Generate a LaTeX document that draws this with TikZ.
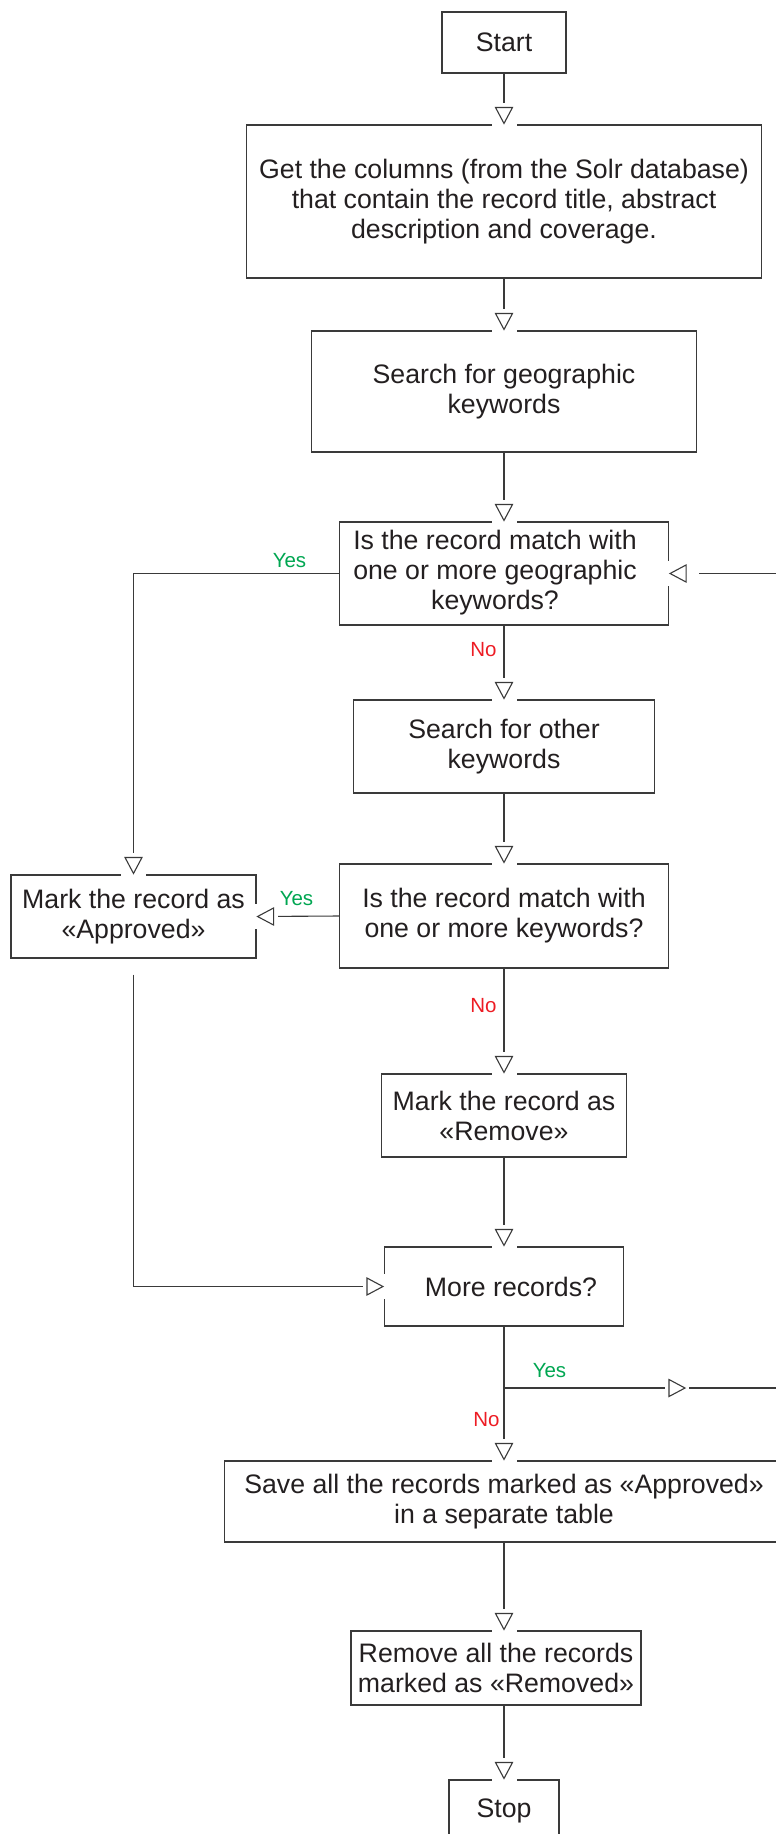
\documentclass[tikz,border=0pt]{standalone}
\usepackage{fontspec}
\setmainfont{Liberation Sans}
\usetikzlibrary{calc}

\definecolor{ink}{HTML}{231F20}
\definecolor{wire}{HTML}{3A3A3A}
\definecolor{yesgreen}{HTML}{00A651}
\definecolor{nored}{HTML}{ED1C24}

% open triangular arrow head with a white clearance around it;
% #2 = point of the tip, #3 = direction, #1 = free space behind the base
\newcommand\opentip[3][5]{%
  \begin{scope}[shift={(#2)}, rotate=#3]
    \fill[white] ({-16-#1},-12.5) rectangle (2.5,12.5);
    \draw[wire, line width=1.1pt, fill=white, line join=miter]
      (-1,0) -- (-17,8.5) -- (-17,-8.5) -- cycle;
  \end{scope}}

\tikzset{
  box/.style={draw=wire, line width=1.1pt, text=ink, inner sep=0pt,
    font=\fontsize{26.7}{30}\selectfont},
  boxc/.style={box, align=center},
  link/.style={draw=wire, line width=1.1pt},
  yeslab/.style={text=yesgreen, inner sep=0pt, font=\fontsize{20.5}{24}\selectfont},
  nolab/.style={text=nored, inner sep=0pt, font=\fontsize{20.5}{24}\selectfont},
}

\begin{document}
\begin{tikzpicture}[x=1pt, y=1pt]
\useasboundingbox (0,0) rectangle (776,-1834);

% process and decision boxes
\node[boxc, minimum width=124pt, minimum height=61pt] (start) at (504,-42.5) {Start};
\node[boxc, minimum width=515pt, minimum height=153pt] (cols) at (504,-201.5)
  {Get the columns (from the Solr database)\\ that contain the record title, abstract\\ description and coverage.};
\node[boxc, minimum width=385pt, minimum height=121pt] (geo) at (504,-391.5)
  {Search for geographic\\ keywords};
\node[box, minimum width=329pt, minimum height=103pt] (dec1) at (504,-573.5)
  {\kern-18pt\begin{tabular}{@{}c@{}}Is the record match with\\ one or more geographic\\ keywords?\end{tabular}};
\node[boxc, minimum width=301pt, minimum height=93pt] (other) at (504,-746.5)
  {Search for other\\ keywords};
\node[boxc, minimum width=329pt, minimum height=104pt] (dec2) at (504,-916)
  {Is the record match with\\ one or more keywords?};
\node[boxc, minimum width=245pt, minimum height=83pt] (approved) at (133.5,-916.5)
  {Mark the record as\\ «Approved»};
\node[boxc, minimum width=245pt, minimum height=83pt] (remove) at (504,-1115.5)
  {Mark the record as\\ «Remove»};
\node[box, minimum width=239pt, minimum height=79pt] (more) at (504,-1286.5)
  {\kern14pt More records?};
\node[boxc, minimum width=559pt, minimum height=81pt] (save) at (504,-1501.5)
  {Save all the records marked as «Approved»\\ in a separate table};
\node[boxc, minimum width=290pt, minimum height=74pt] (removeall) at (496,-1668)
  {Remove all the records\\ marked as «Removed»};
\node[boxc, minimum width=110pt, minimum height=61pt] (stop) at (504,-1810.5) {Stop};

% helper points of the loop back to the first decision
\coordinate (fork) at (504,-1388);
\coordinate (loopR) at (790,-1388);
\coordinate (yesTip) at (686,-1388);

% connectors
\draw[link] (start.south) -- (cols.north);
\draw[link] (cols.south) -- (geo.north);
\draw[link] (geo.south) -- (dec1.north);
\draw[link] (dec1.south) -- (other.north);
\draw[link] (dec1.west) -| (approved.north);
\draw[link] (other.south) -- (dec2.north);
\draw[link] (dec2.west) -- (approved.east);
\draw[link] (dec2.south) -- (remove.north);
\draw[link] (remove.south) -- (more.north);
\draw[link, shorten <=16pt] (approved.south) |- (more.west);
\draw[link] (more.south) -- (save.north);
\draw[link] (fork) -- (loopR) |- (dec1.east);
\draw[link] (save.south) -- (save.south |- removeall.north);
\draw[link] (stop.north |- removeall.south) -- (stop.north);

% arrow heads
\opentip{cols.north}{-90}
\opentip{geo.north}{-90}
\opentip{dec1.north}{-90}
\opentip{other.north}{-90}
\opentip{approved.north}{-90}
\opentip{dec2.north}{-90}
\opentip{approved.east}{180}
\opentip{remove.north}{-90}
\opentip{more.north}{-90}
\opentip{more.west}{0}
\opentip{save.north}{-90}
\opentip{yesTip}{0}
\opentip[14]{dec1.east}{180}
\opentip{save.south |- removeall.north}{-90}
\opentip{stop.north}{-90}

% branch labels
\node[yeslab] (yes1) at (289.5,-560.5) {Yes};
\node[nolab]  (no1)  at (483.5,-649.5) {No};
\node[yeslab] (yes2) at (296.5,-899) {Yes};
\node[nolab]  (no2)  at (483.5,-1006) {No};
\node[yeslab] (yes3) at (549.5,-1371) {Yes};
\node[nolab]  (no3)  at (486.5,-1419.5) {No};
\end{tikzpicture}
\end{document}
